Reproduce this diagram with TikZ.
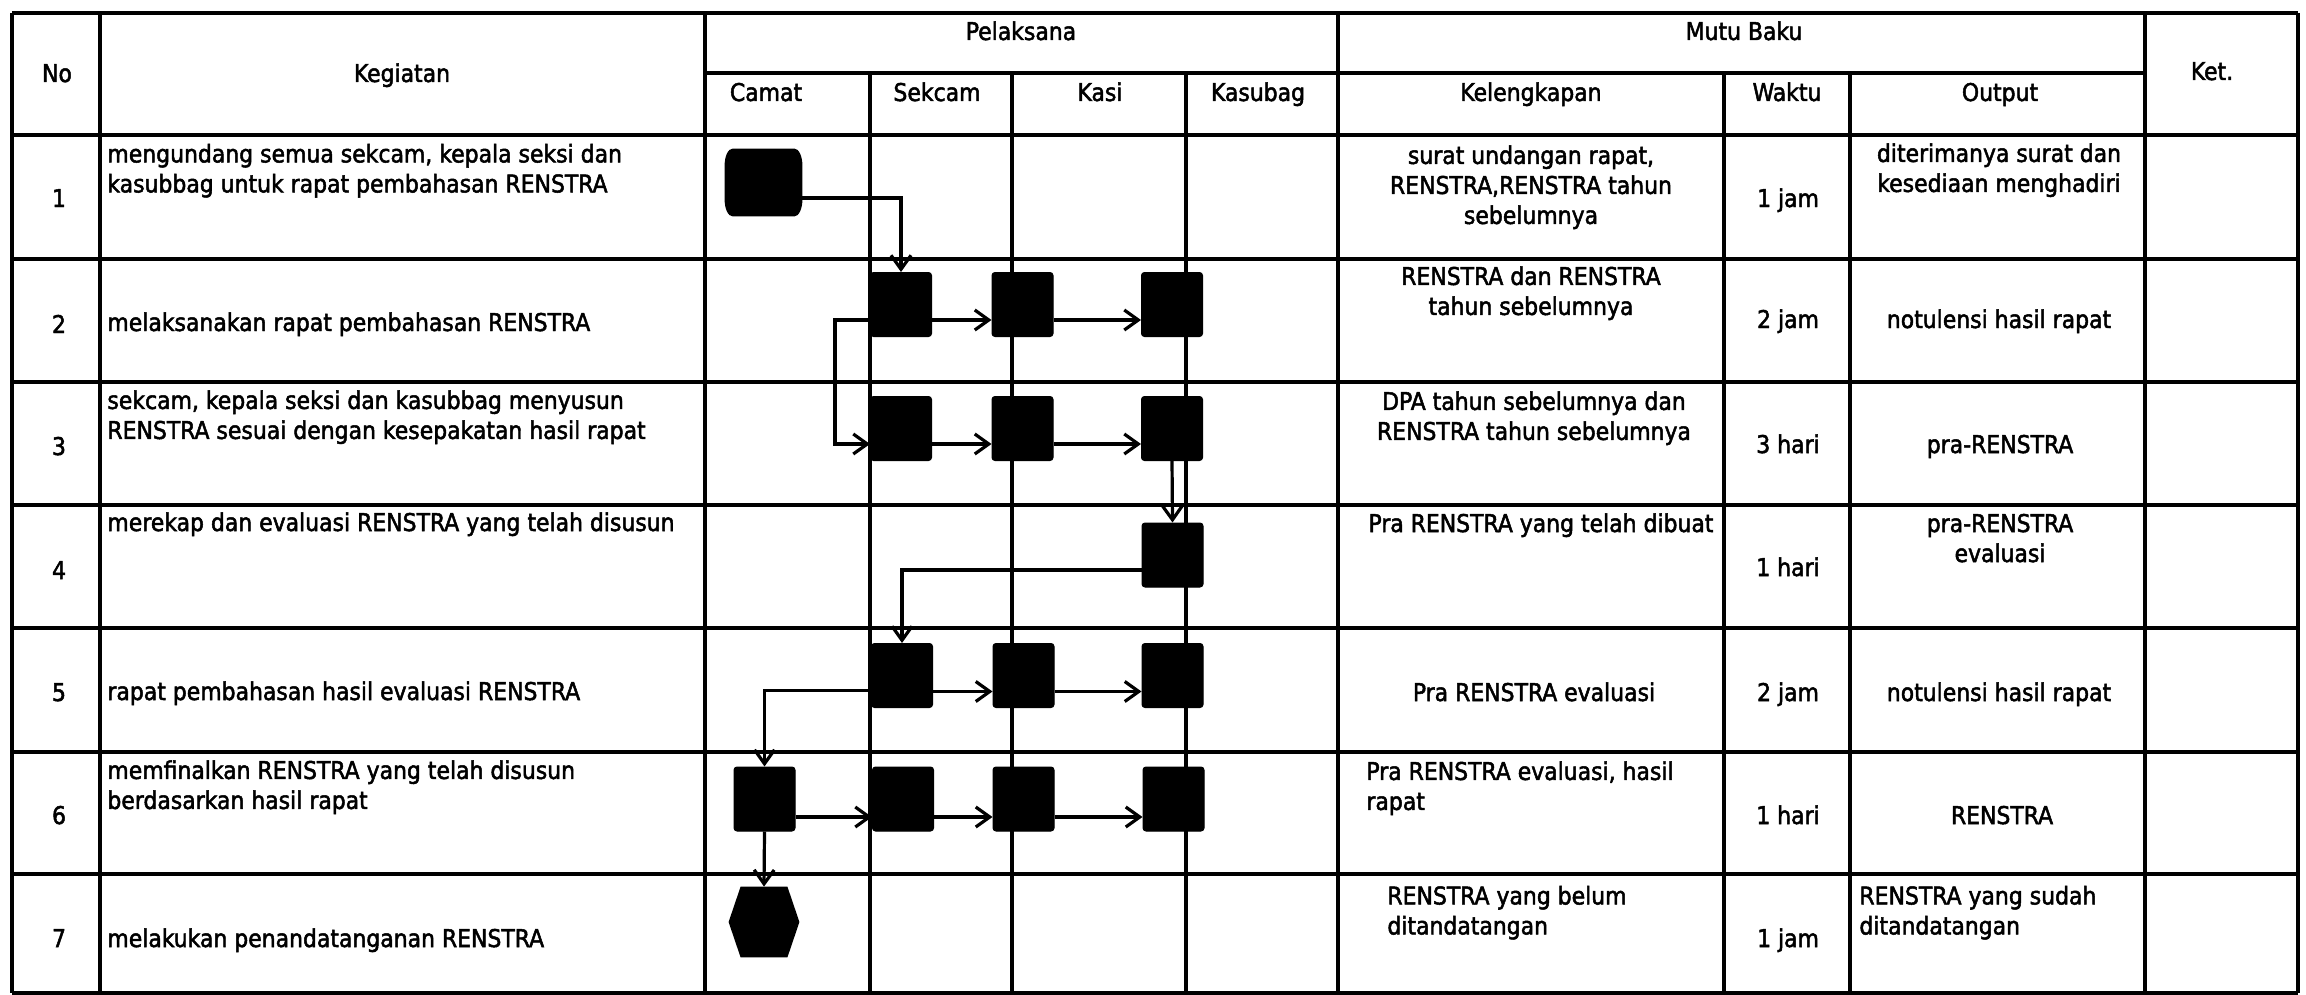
\documentclass[tikz,border=0pt]{standalone}
\usepackage{fontspec}
\setmainfont{DejaVu Sans Condensed}[FakeBold=2]
\usetikzlibrary{arrows.meta}
\begin{document}
\begin{tikzpicture}[x=0.5pt,y=-0.5pt,
  tl/.style={line width=2pt},
  fbox/.style={fill=black, draw=black, line width=0.5pt, rounded corners=1.5pt, minimum width=30.5pt, minimum height=32pt, inner sep=0pt},
  conn/.style={line width=1.6pt, -{Straight Barb[length=7pt,width=10pt]}},
  lbl/.style={inner sep=0pt, font=\fontsize{12.2pt}{15pt}\selectfont},
  lblc/.style={lbl, align=center, anchor=north},
  lbll/.style={lbl, align=left, anchor=north west}]
\useasboundingbox (0,0) rectangle (2306,995);
\fill[white] (0,0) rectangle (2306,995);
% ---------- table ----------
\foreach \x in {12,100,705,1338,2145,2298} \draw[tl] (\x,13) -- (\x,993);
\foreach \x in {870,1012,1186,1724,1850} \draw[tl] (\x,73) -- (\x,993);
\draw[tl] (705,73) -- (2145,73);
\foreach \y in {13,135,259,382,505,628,752,874,993} \draw[tl] (12,\y) -- (2298,\y);
% ---------- header ----------
\node[lbl, anchor=base] (hNo) at (57,82) {No};
\node[lbl, anchor=base] (hKeg) at (402,82) {Kegiatan};
\node[lbl, anchor=base] (hPel) at (1021,40) {Pelaksana};
\node[lbl, anchor=base] (hCam) at (766,101) {Camat};
\node[lbl, anchor=base] (hSek) at (937,101) {Sekcam};
\node[lbl, anchor=base] (hKasi) at (1100,101) {Kasi};
\node[lbl, anchor=base] (hKsb) at (1258,101) {Kasubag};
\node[lbl, anchor=base] (hMutu) at (1744,40) {Mutu Baku};
\node[lbl, anchor=base] (hKel) at (1531,101) {Kelengkapan};
\node[lbl, anchor=base] (hWak) at (1787,101) {Waktu};
\node[lbl, anchor=base] (hOut) at (2000,101) {Output};
\node[lbl, anchor=base] (hKet) at (2212,80) {Ket.};
% ---------- numbers ----------
\node[lbl, anchor=base] (n1) at (59,207) {1};
\node[lbl, anchor=base] (n2) at (59,333) {2};
\node[lbl, anchor=base] (n3) at (59,455) {3};
\node[lbl, anchor=base] (n4) at (59,579) {4};
\node[lbl, anchor=base] (n5) at (59,701) {5};
\node[lbl, anchor=base] (n6) at (59,824) {6};
\node[lbl, anchor=base] (n7) at (59,947) {7};
% ---------- kegiatan ----------
\node[lbll] (k1) at (107,143.5) {mengundang semua sekcam, kepala seksi dan\\kasubbag untuk rapat pembahasan RENSTRA};
\node[lbl, anchor=base west] (k2) at (107,331) {melaksanakan rapat pembahasan RENSTRA};
\node[lbll] (k3) at (107,390) {sekcam, kepala seksi dan kasubbag menyusun\\RENSTRA sesuai dengan kesepakatan hasil rapat};
\node[lbl, anchor=base west] (k4) at (107,531) {merekap dan evaluasi RENSTRA yang telah disusun};
\node[lbl, anchor=base west] (k5) at (107,700) {rapat pembahasan hasil evaluasi RENSTRA};
\node[lbll] (k6) at (107,760) {memfinalkan RENSTRA yang telah disusun\\berdasarkan hasil rapat};
\node[lbl, anchor=base west] (k7) at (107,947) {melakukan penandatanganan RENSTRA};
% ---------- mutu baku ----------
\node[lblc] (kel1) at (1531,145) {surat undangan rapat,\\RENSTRA,RENSTRA tahun\\sebelumnya};
\node[lbl, anchor=base] (w1) at (1788,207) {1 jam};
\node[lblc] (o1) at (1999,143) {diterimanya surat dan\\kesediaan menghadiri};
\node[lblc] (kel2) at (1531,266) {RENSTRA dan RENSTRA\\tahun sebelumnya};
\node[lbl, anchor=base] (w2) at (1788,328) {2 jam};
\node[lbl, anchor=base] (o2) at (1999,328) {notulensi hasil rapat};
\node[lblc] (kel3) at (1534,391) {DPA tahun sebelumnya dan\\RENSTRA tahun sebelumnya};
\node[lbl, anchor=base] (w3) at (1788,453) {3 hari};
\node[lbl, anchor=base] (o3) at (2000,453) {pra-RENSTRA};
\node[lbl, anchor=base] (kel4) at (1541,532) {Pra RENSTRA yang telah dibuat};
\node[lbl, anchor=base] (w4) at (1788,576) {1 hari};
\node[lblc] (o4) at (2000,513.5) {pra-RENSTRA\\evaluasi};
\node[lbl, anchor=base] (kel5) at (1534,701) {Pra RENSTRA evaluasi};
\node[lbl, anchor=base] (w5) at (1788,701) {2 jam};
\node[lbl, anchor=base] (o5) at (1999,701) {notulensi hasil rapat};
\node[lbll] (kel6) at (1366,761) {Pra RENSTRA evaluasi, hasil\\rapat};
\node[lbl, anchor=base] (w6) at (1788,824) {1 hari};
\node[lbl, anchor=base] (o6) at (2002,824) {RENSTRA};
\node[lbll] (kel7) at (1387,885.5) {RENSTRA yang belum\\ditandatangan};
\node[lbl, anchor=base] (w7) at (1788,947) {1 jam};
\node[lbll] (o7) at (1859,885.5) {RENSTRA yang sudah\\ditandatangan};
% ---------- flow shapes ----------
\node[inner sep=0pt, minimum width=38.5pt, minimum height=33.5pt] (s1) at (763.5,182.5) {};
\fill ([xshift=4pt]s1.north west) -- ([xshift=-4pt]s1.north east)
  arc[start angle=90, end angle=0, x radius=4pt, y radius=8.5pt]
  -- ([yshift=8.5pt]s1.south east)
  arc[start angle=0, end angle=-90, x radius=4pt, y radius=8.5pt]
  -- ([xshift=4pt]s1.south west)
  arc[start angle=270, end angle=180, x radius=4pt, y radius=8.5pt]
  -- ([yshift=-8.5pt]s1.north west)
  arc[start angle=180, end angle=90, x radius=4pt, y radius=8.5pt] -- cycle;
\node[fbox] (b2s) at (901,304.5) {};
\node[fbox] (b2k) at (1022.5,304.5) {};
\node[fbox] (b2b) at (1172,304.5) {};
\node[fbox] (b3s) at (901,428.5) {};
\node[fbox] (b3k) at (1022.5,428.5) {};
\node[fbox] (b3b) at (1172,428.5) {};
\node[fbox] (b4b) at (1172.5,555) {};
\node[fbox] (b5s) at (902,675.5) {};
\node[fbox] (b5k) at (1023.5,675.5) {};
\node[fbox] (b5b) at (1172.5,675.5) {};
\node[fbox] (b6c) at (764.5,799) {};
\node[fbox] (b6s) at (903,799) {};
\node[fbox] (b6k) at (1023.5,799) {};
\node[fbox] (b6b) at (1173.5,799) {};
\node[inner sep=0pt, minimum width=35pt, minimum height=35pt] (e) at (764,922) {};
\fill (e.west) -- ([xshift=6pt]e.north west) -- ([xshift=-6pt]e.north east) -- (e.east)
  -- ([xshift=-6pt]e.south east) -- ([xshift=6pt]e.south west) -- cycle;
% ---------- connectors ----------
\draw[conn] ([yshift=-7.75pt]s1.east) -| (b2s.north);
\draw[conn] ([yshift=-7.75pt]b2s.east) -- ([yshift=-7.75pt]b2k.west);
\draw[conn] ([yshift=-7.75pt]b2k.east) -- ([yshift=-7.75pt]b2b.west);
\draw[conn] ([yshift=-7.75pt]b2s.west) -- ++(-17.5pt,0) |- ([yshift=-7.75pt]b3s.west);
\draw[conn] ([yshift=-7.75pt]b3s.east) -- ([yshift=-7.75pt]b3k.west);
\draw[conn] ([yshift=-7.75pt]b3k.east) -- ([yshift=-7.75pt]b3b.west);
\draw[conn] (b3b.south) -- (b4b.north);
\draw[conn] ([yshift=-7.5pt]b4b.west) -| (b5s.north);
\draw[conn] ([yshift=-8pt]b5s.east) -- ([yshift=-8pt]b5k.west);
\draw[conn] ([yshift=-8pt]b5k.east) -- ([yshift=-8pt]b5b.west);
\draw[conn] ([yshift=-7.5pt]b5s.west) -| (b6c.north);
\draw[conn] ([yshift=-9pt]b6c.east) -- ([yshift=-9pt]b6s.west);
\draw[conn] ([yshift=-9pt]b6s.east) -- ([yshift=-9pt]b6k.west);
\draw[conn] ([yshift=-9pt]b6k.east) -- ([yshift=-9pt]b6b.west);
\draw[conn] (b6c.south) -- (e.north);
\end{tikzpicture}
\end{document}
